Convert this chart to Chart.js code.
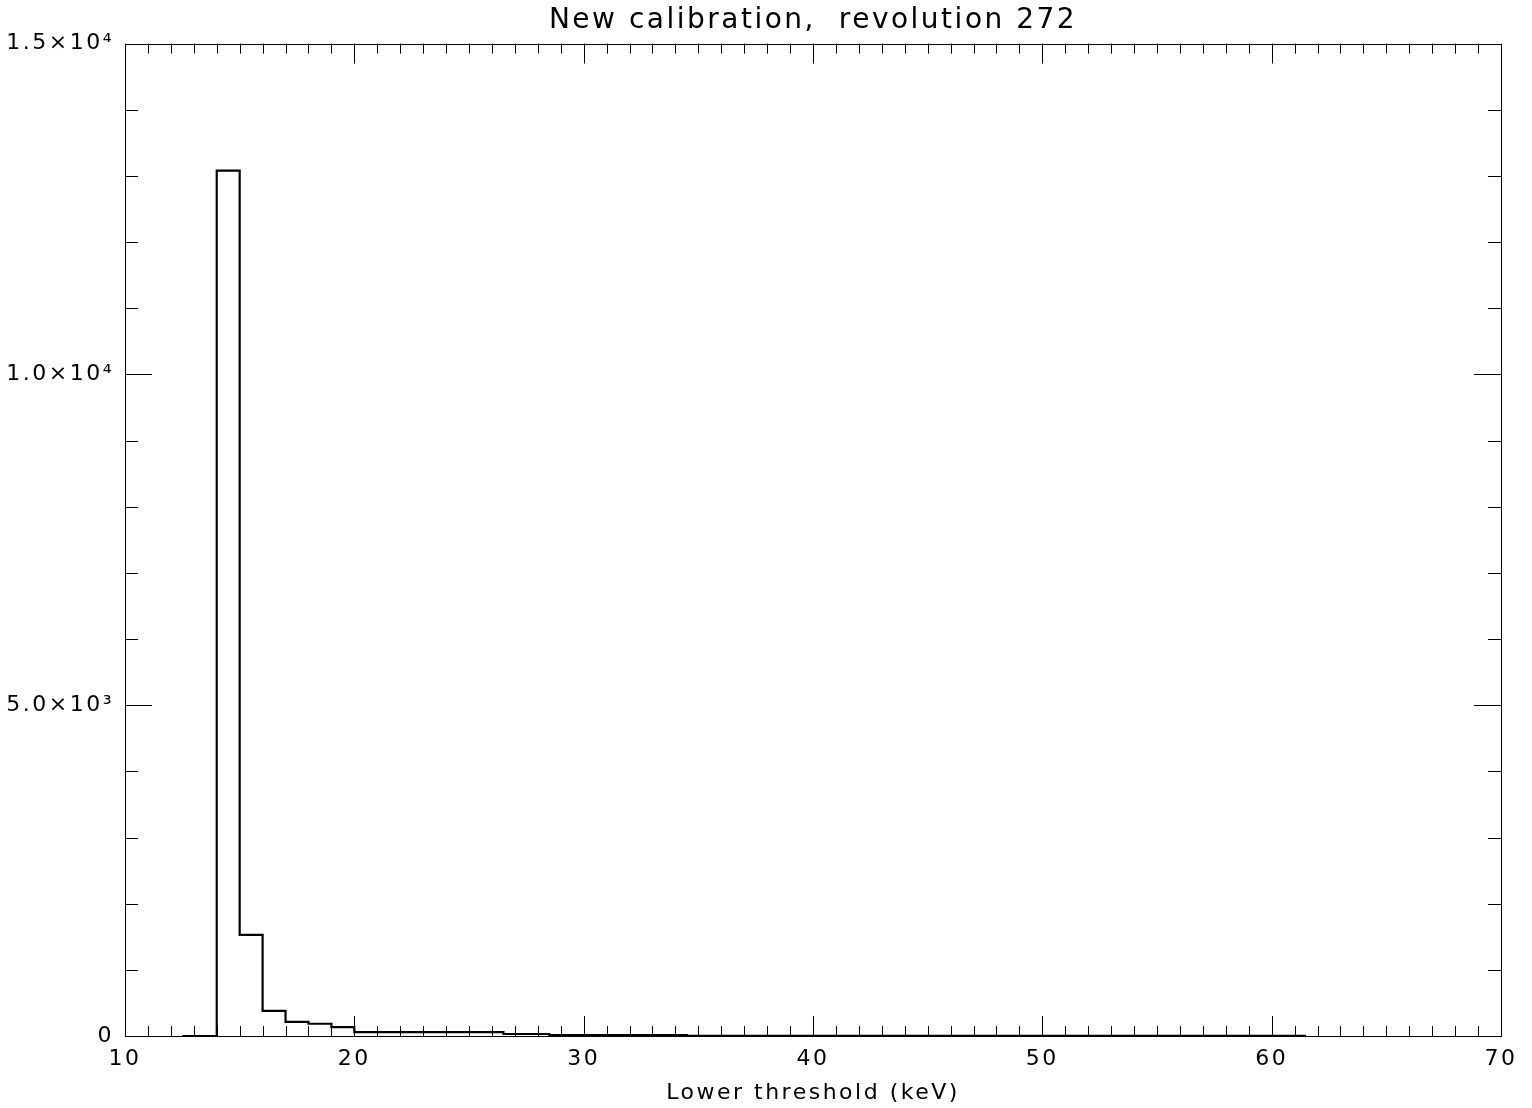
<!DOCTYPE html>
<html lang="en">
  <head>
    <meta charset="UTF-8" />
    <title>New calibration, revolution 272</title>
  </head>
  <style>
    * {
      margin: 0;
      padding: 0;
    }
    body {
      background: white;
    }
  </style>
  <body>
    <canvas id="myChart" width="1532" height="1108"></canvas>

    <script src="https://cdn.jsdelivr.net/npm/chart.js"></script>

    <script>
      // histogram bins (keV): left edges + final right edge
      const binEdges = [12.5, 14, 15, 16, 17, 18, 19, 20, 26.5, 28.5, 34.5, 61.5];
      // counts per bin
      const counts = [0, 13080, 1530, 380, 215, 185, 135, 60, 30, 12, 4];
      // axis ticks
      const xTicks = [10, 20, 30, 40, 50, 60, 70];
      const yTicks = [0, 5000, 10000, 15000];
      const yTickLabels = ["0", "5.0×10³", "1.0×10⁴", "1.5×10⁴"];

      const FONT = "'DejaVu Sans', sans-serif";

      // step points: segment [edge i, edge i+1] at counts[i]
      const points = counts.map((c, i) => ({ x: binEdges[i], y: c }));
      points.push({ x: binEdges[binEdges.length - 1], y: counts[counts.length - 1] });

      // wide lettering like the IDL vector font
      const wideText = {
        id: "wideText",
        beforeInit: (chart) => {
          chart.ctx.letterSpacing = "2.5px";
        },
        beforeUpdate: (chart) => {
          chart.ctx.letterSpacing = "2.5px";
        },
        beforeDraw: (chart) => {
          chart.ctx.letterSpacing = "2.5px";
        }
      };

      // IDL style box with minor/major ticks on all four sides
      const idlFrame = {
        id: "idlFrame",
        afterDraw: (chart) => {
          const { ctx, chartArea: { top, left, bottom, right }, scales: { x, y } } = chart;
          ctx.save();
          ctx.strokeStyle = "#000";
          ctx.lineWidth = 1;
          ctx.beginPath();
          for (let v = 10; v <= 70; v++) {
            const px = Math.round(x.getPixelForValue(v)) + 0.5;
            const len = v % 10 === 0 ? 20 : 10;
            ctx.moveTo(px, bottom);
            ctx.lineTo(px, bottom - len);
            ctx.moveTo(px, top);
            ctx.lineTo(px, top + len);
          }
          for (let v = 0; v <= 15000; v += 1000) {
            const py = Math.round(y.getPixelForValue(v)) + 0.5;
            const len = v % 5000 === 0 ? 27 : 13;
            ctx.moveTo(left, py);
            ctx.lineTo(left + len, py);
            ctx.moveTo(right, py);
            ctx.lineTo(right - len, py);
          }
          ctx.stroke();
          ctx.strokeRect(Math.round(left) + 0.5, Math.round(top) + 0.5,
            Math.round(right - left), Math.round(bottom - top));
          ctx.restore();
        }
      };

      const data = {
        datasets: [
          {
            label: "counts",
            data: points,
            stepped: "before",
            borderColor: "#000",
            borderWidth: 2.2,
            pointRadius: 0,
            fill: false
          }
        ]
      };

      const config = {
        type: "line",
        data,
        options: {
          responsive: false,
          animation: false,
          layout: { padding: { left: 0, right: 31, top: 0, bottom: 0 } },
          plugins: {
            legend: { display: false },
            tooltip: { enabled: false },
            title: {
              display: true,
              fullSize: false,
              text: "New calibration,  revolution 272",
              color: "#000",
              font: { family: FONT, size: 28, weight: "normal" },
              padding: { top: 4, bottom: 6 }
            }
          },
          scales: {
            x: {
              type: "linear",
              min: 10,
              max: 70,
              afterBuildTicks: (scale) => {
                scale.ticks = xTicks.map((v) => ({ value: v }));
              },
              afterFit: (scale) => {
                scale.height = 72;
              },
              grid: { display: false, drawTicks: false },
              border: { display: false },
              ticks: {
                color: "#000",
                padding: 10,
                maxRotation: 0,
                font: { family: FONT, size: 22 }
              },
              title: {
                display: true,
                text: "Lower threshold (keV)",
                color: "#000",
                font: { family: FONT, size: 22 },
                padding: { top: 0, bottom: 2 }
              }
            },
            y: {
              type: "linear",
              min: 0,
              max: 15000,
              afterBuildTicks: (scale) => {
                scale.ticks = yTicks.map((v) => ({ value: v }));
              },
              afterFit: (scale) => {
                scale.width = 125;
              },
              grid: { display: false, drawTicks: false },
              border: { display: false },
              ticks: {
                color: "#000",
                padding: 11,
                font: { family: FONT, size: 22 },
                callback: (value) => yTickLabels[yTicks.indexOf(value)]
              }
            }
          }
        },
        plugins: [wideText, idlFrame]
      };

      const ctx = document.getElementById("myChart");
      const myChart = new Chart(ctx, config);
    </script>
  </body>
</html>
